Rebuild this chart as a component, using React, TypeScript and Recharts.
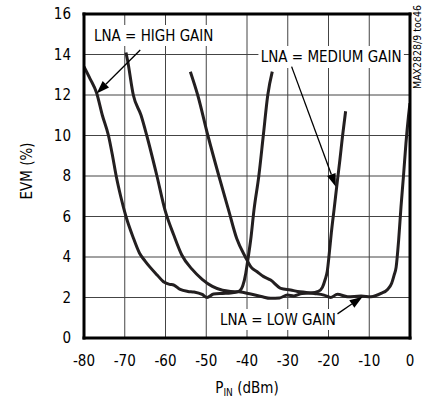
import { LineChart, Line, XAxis, YAxis, CartesianGrid, ReferenceLine, ReferenceArea } from 'recharts';

const FONT = '"Liberation Sans Narrow", "DejaVu Sans Condensed", "Arial Narrow", Arial, sans-serif';
const INK = '#231f20';

const xTicks = [-80, -70, -60, -50, -40, -30, -20, -10, 0];
const yTicks = [0, 2, 4, 6, 8, 10, 12, 14, 16];

// LNA = HIGH GAIN
const highPin = [-80, -78.5, -76.9, -75.5, -74, -73, -72.1, -71, -69.7, -68, -66.4, -65, -63.8, -62, -60.5, -59, -58, -56.4, -54.5, -53, -51, -49.8, -48.2, -46, -44, -42, -41, -40.3, -39.8, -39, -38.3, -37.1, -36, -34.9, -33.8];
const highEvm = [13.4, 12.8, 12.1, 11.0, 10.0, 9.0, 8.0, 7.0, 6.0, 5.0, 4.2, 3.8, 3.5, 3.1, 2.78, 2.65, 2.62, 2.4, 2.3, 2.27, 2.15, 2.0, 2.17, 2.2, 2.22, 2.3, 2.6, 3.2, 3.85, 5.0, 6.3, 8.0, 10.0, 12.0, 13.15];

// LNA = MEDIUM GAIN
const medPin = [-69.7, -69.3, -67.9, -66, -64.6, -62.1, -60.1, -58, -56, -53.5, -51, -48.5, -46, -44, -42, -39.1, -36.5, -34.2, -32, -30.1, -28.5, -26.5, -24.5, -22.5, -21.5, -20.8, -20.3, -19.8, -19.3, -18.6, -17.8, -17.2, -16.6, -15.8];
const medEvm = [14.1, 13.7, 12.0, 11.0, 10.0, 8.0, 6.3, 5.1, 4.1, 3.4, 2.9, 2.55, 2.36, 2.3, 2.28, 2.17, 2.05, 1.96, 1.98, 2.12, 2.08, 2.2, 2.22, 2.3, 2.5, 2.9, 3.3, 4.2, 5.2, 6.4, 7.8, 8.8, 9.9, 11.2];

// LNA = LOW GAIN
const lowPin = [-53.9, -52.1, -49.6, -46.9, -44.5, -42.5, -40.4, -39, -37.5, -35.9, -34.2, -31.7, -29.3, -27.6, -25.5, -23.5, -21.1, -19.5, -17.8, -15.3, -12, -9.6, -7.1, -5.5, -4.5, -3.9, -3.4, -2.8, -2.2, -1.6, -1.0, -0.4, 0];
const lowEvm = [13.15, 12.0, 10.0, 8.0, 6.3, 4.9, 4.0, 3.5, 3.27, 3.03, 2.86, 2.45, 2.37, 2.3, 2.25, 2.2, 2.12, 2.0, 2.16, 2.04, 2.07, 2.04, 2.2, 2.4, 2.7, 3.1, 3.5, 4.8, 6.5, 8.0, 9.6, 10.9, 11.6];

const toPoints = (xs: number[], ys: number[]) => xs.map((x, i) => ({ x, y: ys[i] }));

const highData = toPoints(highPin, highEvm);
const medData = toPoints(medPin, medEvm);
const lowData = toPoints(lowPin, lowEvm);

// line with a filled arrowhead at the (x2, y2) end
const Arrow = (props: any) => {
  const { x1, y1, x2, y2 } = props;
  const a = Math.atan2(y2 - y1, x2 - x1);
  const len = 13;
  const w = 4.5;
  const bx = x2 - len * Math.cos(a);
  const by = y2 - len * Math.sin(a);
  const p1 = `${bx + w * Math.sin(a)},${by - w * Math.cos(a)}`;
  const p2 = `${bx - w * Math.sin(a)},${by + w * Math.cos(a)}`;
  return (
    <g>
      <line x1={x1} y1={y1} x2={bx} y2={by} stroke="#000" strokeWidth={1.3} />
      <polygon points={`${x2},${y2} ${p1} ${p2}`} fill="#000" />
    </g>
  );
};

const boxLabel = (value: string) => ({ value, position: 'center' as const, fill: '#000', fontSize: 15 });

export default function App() {
  return (
    <div style={{ position: 'absolute', left: 0, top: 0, width: 428, height: 400, fontFamily: FONT, background: '#fff' }}>
      <LineChart width={428} height={400} data={highData} margin={{ top: 14, right: 18, left: 0, bottom: 0 }}>
        <CartesianGrid stroke="#444" strokeWidth={1} />
        <XAxis
          dataKey="x"
          type="number"
          domain={[-80, 0]}
          ticks={xTicks}
          allowDataOverflow
          axisLine={false}
          tickLine={false}
          tickMargin={11}
          height={62}
          tick={{ fill: '#000', fontSize: 15 }}
          label={{
            content: () => (
              <text x={247} y={393} textAnchor="middle" fontSize={15} fill="#000">
                P<tspan fontSize={10} dy={3}>IN</tspan><tspan dy={-3}> (dBm)</tspan>
              </text>
            ),
          }}
        />
        <YAxis
          type="number"
          domain={[0, 16]}
          ticks={yTicks}
          allowDataOverflow
          axisLine={false}
          tickLine={false}
          tickMargin={7}
          width={84}
          tick={{ fill: '#000', fontSize: 15 }}
          label={{
            content: () => (
              <text x={32} y={171} transform="rotate(-90 32 171)" textAnchor="middle" fontSize={15} fill="#000">
                EVM (%)
              </text>
            ),
          }}
        />
        <ReferenceArea x1={-77.3} x2={-48.5} y1={14.42} y2={15.46} fill="#fff" fillOpacity={1} stroke="none" label={boxLabel('LNA = HIGH GAIN')} />
        <ReferenceArea x1={-37.2} x2={-1.5} y1={13.33} y2={14.42} fill="#fff" fillOpacity={1} stroke="none" label={boxLabel('LNA = MEDIUM GAIN')} />
        <ReferenceArea x1={-46.8} x2={-18} y1={0.4} y2={1.43} fill="#fff" fillOpacity={1} stroke="none" label={boxLabel('LNA = LOW GAIN')} />

        <Line data={highData} dataKey="y" type="monotone" stroke={INK} strokeWidth={3} dot={false} activeDot={false} isAnimationActive={false} />
        <Line data={medData} dataKey="y" type="monotone" stroke={INK} strokeWidth={3} dot={false} activeDot={false} isAnimationActive={false} />
        <Line data={lowData} dataKey="y" type="monotone" stroke={INK} strokeWidth={3} dot={false} activeDot={false} isAnimationActive={false} />

        <ReferenceLine segment={[{ x: -66.2, y: 14.22 }, { x: -76.9, y: 12.08 }]} shape={Arrow} />
        <ReferenceLine segment={[{ x: -29.05, y: 13.4 }, { x: -18.2, y: 7.47 }]} shape={Arrow} />
        <ReferenceLine segment={[{ x: -17.8, y: 1.19 }, { x: -11.65, y: 2.04 }]} shape={Arrow} />

        <ReferenceLine x={-80} stroke="#000" strokeWidth={3} strokeLinecap="square" />
        <ReferenceLine x={0} stroke="#000" strokeWidth={3} strokeLinecap="square" />
        <ReferenceLine y={0} stroke="#000" strokeWidth={3} strokeLinecap="square" />
        <ReferenceLine y={16} stroke="#000" strokeWidth={3} strokeLinecap="square" />
      </LineChart>
      <div
        style={{
          position: 'absolute',
          left: 372,
          top: 41,
          width: 90,
          height: 12,
          lineHeight: '12px',
          fontSize: 10.5,
          textAlign: 'center',
          transform: 'rotate(-90deg)',
          color: '#000',
        }}
      >
        MAX2828/9 toc46
      </div>
    </div>
  );
}
